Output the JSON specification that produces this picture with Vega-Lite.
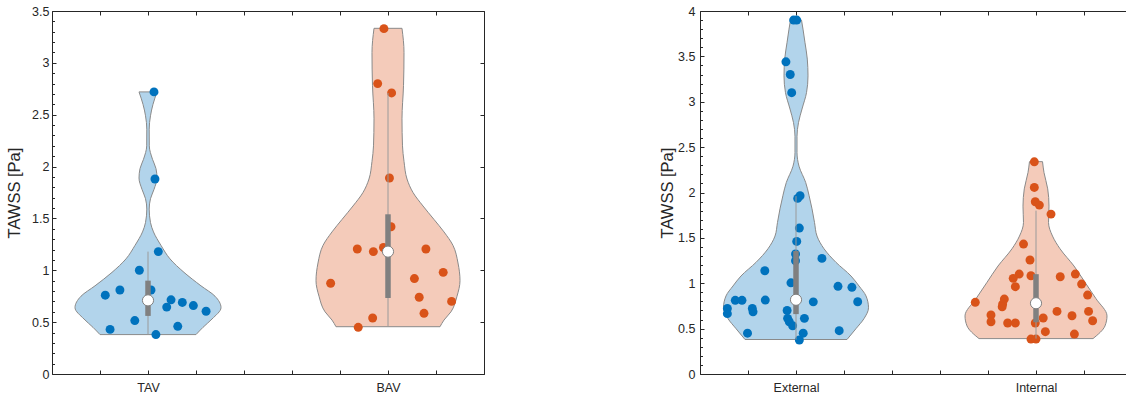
{
  "$schema": "https://vega.github.io/schema/vega-lite/v6.json",
  "padding": {"left": 6, "top": 5, "right": 0, "bottom": 0},
  "spacing": 174,
  "config": {
    "view": {"stroke": null},
    "axis": {"grid": false, "domainColor": "#262626", "tickColor": "#262626", "labelColor": "#262626", "titleColor": "#262626", "labelFont": "Liberation Sans", "titleFont": "Liberation Sans", "labelFontSize": 12.5, "titleFontSize": 16.5, "titleFontWeight": "normal", "labelOverlap": false, "domainWidth": 1, "tickWidth": 1}
  },
  "datasets": {
    "outL": [
      {"g": "TAV", "v": 0.38, "lo": 0.8, "hi": 1.2},
      {"g": "TAV", "v": 0.45, "lo": 0.7708, "hi": 1.2292},
      {"g": "TAV", "v": 0.53, "lo": 0.7333, "hi": 1.2667},
      {"g": "TAV", "v": 0.64, "lo": 0.6958, "hi": 1.3042},
      {"g": "TAV", "v": 0.75, "lo": 0.7208, "hi": 1.2792},
      {"g": "TAV", "v": 0.85, "lo": 0.7792, "hi": 1.2208},
      {"g": "TAV", "v": 0.98, "lo": 0.85, "hi": 1.15},
      {"g": "TAV", "v": 1.11, "lo": 0.9083, "hi": 1.0917},
      {"g": "TAV", "v": 1.24, "lo": 0.9458, "hi": 1.0542},
      {"g": "TAV", "v": 1.37, "lo": 0.9771, "hi": 1.0229},
      {"g": "TAV", "v": 1.46, "lo": 0.9896, "hi": 1.0104},
      {"g": "TAV", "v": 1.59, "lo": 0.995, "hi": 1.005},
      {"g": "TAV", "v": 1.69, "lo": 0.9896, "hi": 1.0104},
      {"g": "TAV", "v": 1.78, "lo": 0.975, "hi": 1.025},
      {"g": "TAV", "v": 1.89, "lo": 0.9625, "hi": 1.0375},
      {"g": "TAV", "v": 1.98, "lo": 0.9667, "hi": 1.0333},
      {"g": "TAV", "v": 2.07, "lo": 0.9812, "hi": 1.0188},
      {"g": "TAV", "v": 2.2, "lo": 0.9946, "hi": 1.0054},
      {"g": "TAV", "v": 2.36, "lo": 0.995, "hi": 1.005},
      {"g": "TAV", "v": 2.49, "lo": 0.9896, "hi": 1.0104},
      {"g": "TAV", "v": 2.6, "lo": 0.9792, "hi": 1.0208},
      {"g": "TAV", "v": 2.72, "lo": 0.9625, "hi": 1.0375},
      {"g": "BAV", "v": 0.456, "lo": 1.7833, "hi": 2.2167},
      {"g": "BAV", "v": 0.52, "lo": 1.7667, "hi": 2.2333},
      {"g": "BAV", "v": 0.6, "lo": 1.7375, "hi": 2.2625},
      {"g": "BAV", "v": 0.75, "lo": 1.7125, "hi": 2.2875},
      {"g": "BAV", "v": 0.9, "lo": 1.7, "hi": 2.3},
      {"g": "BAV", "v": 1.07, "lo": 1.7083, "hi": 2.2917},
      {"g": "BAV", "v": 1.24, "lo": 1.7292, "hi": 2.2708},
      {"g": "BAV", "v": 1.37, "lo": 1.7667, "hi": 2.2333},
      {"g": "BAV", "v": 1.49, "lo": 1.8083, "hi": 2.1917},
      {"g": "BAV", "v": 1.62, "lo": 1.8542, "hi": 2.1458},
      {"g": "BAV", "v": 1.75, "lo": 1.8958, "hi": 2.1042},
      {"g": "BAV", "v": 1.88, "lo": 1.9208, "hi": 2.0792},
      {"g": "BAV", "v": 2.05, "lo": 1.9333, "hi": 2.0667},
      {"g": "BAV", "v": 2.2, "lo": 1.9396, "hi": 2.0604},
      {"g": "BAV", "v": 2.46, "lo": 1.9417, "hi": 2.0583},
      {"g": "BAV", "v": 2.78, "lo": 1.9354, "hi": 2.0646},
      {"g": "BAV", "v": 3.1, "lo": 1.9333, "hi": 2.0667},
      {"g": "BAV", "v": 3.333, "lo": 1.9417, "hi": 2.0583}
    ],
    "ptsL": [
      {"g": "TAV", "x": 1.025, "v": 2.72}, {"g": "TAV", "x": 1.029, "v": 1.88}, {"g": "TAV", "x": 1.043, "v": 1.18},
      {"g": "TAV", "x": 0.964, "v": 1.0}, {"g": "TAV", "x": 0.822, "v": 0.76}, {"g": "TAV", "x": 0.883, "v": 0.81},
      {"g": "TAV", "x": 1.0125, "v": 0.81}, {"g": "TAV", "x": 1.078, "v": 0.645}, {"g": "TAV", "x": 1.096, "v": 0.715},
      {"g": "TAV", "x": 1.143, "v": 0.69}, {"g": "TAV", "x": 1.189, "v": 0.66}, {"g": "TAV", "x": 1.242, "v": 0.605},
      {"g": "TAV", "x": 0.945, "v": 0.515}, {"g": "TAV", "x": 0.842, "v": 0.43}, {"g": "TAV", "x": 1.124, "v": 0.46},
      {"g": "TAV", "x": 1.033, "v": 0.38},
      {"g": "BAV", "x": 1.983, "v": 3.33}, {"g": "BAV", "x": 1.957, "v": 2.8}, {"g": "BAV", "x": 2.015, "v": 2.71},
      {"g": "BAV", "x": 2.006, "v": 1.89}, {"g": "BAV", "x": 2.0125, "v": 1.42}, {"g": "BAV", "x": 1.872, "v": 1.205},
      {"g": "BAV", "x": 1.939, "v": 1.18}, {"g": "BAV", "x": 1.981, "v": 1.22}, {"g": "BAV", "x": 2.158, "v": 1.205},
      {"g": "BAV", "x": 1.761, "v": 0.875}, {"g": "BAV", "x": 2.11, "v": 0.92}, {"g": "BAV", "x": 2.23, "v": 0.98},
      {"g": "BAV", "x": 2.13, "v": 0.74}, {"g": "BAV", "x": 2.265, "v": 0.7}, {"g": "BAV", "x": 2.15, "v": 0.585},
      {"g": "BAV", "x": 1.936, "v": 0.54}, {"g": "BAV", "x": 1.876, "v": 0.45}
    ],
    "statL": [
      {"g": "TAV", "c": 1, "wlo": 0.38, "whi": 1.18, "q1": 0.56, "q3": 0.9, "med": 0.71},
      {"g": "BAV", "c": 2, "wlo": 0.456, "whi": 2.71, "q1": 0.733, "q3": 1.54, "med": 1.18}
    ],
    "outR": [
      {"g": "External", "v": 0.38, "lo": 0.7875, "hi": 1.2125},
      {"g": "External", "v": 0.5, "lo": 0.75, "hi": 1.25},
      {"g": "External", "v": 0.61, "lo": 0.7167, "hi": 1.2833},
      {"g": "External", "v": 0.73, "lo": 0.6979, "hi": 1.3021},
      {"g": "External", "v": 0.86, "lo": 0.7083, "hi": 1.2917},
      {"g": "External", "v": 0.97, "lo": 0.7375, "hi": 1.2625},
      {"g": "External", "v": 1.08, "lo": 0.7708, "hi": 1.2292},
      {"g": "External", "v": 1.23, "lo": 0.8333, "hi": 1.1667},
      {"g": "External", "v": 1.38, "lo": 0.8833, "hi": 1.1167},
      {"g": "External", "v": 1.52, "lo": 0.9125, "hi": 1.0875},
      {"g": "External", "v": 1.67, "lo": 0.9229, "hi": 1.0771},
      {"g": "External", "v": 1.82, "lo": 0.9333, "hi": 1.0667},
      {"g": "External", "v": 1.97, "lo": 0.9458, "hi": 1.0542},
      {"g": "External", "v": 2.11, "lo": 0.9596, "hi": 1.0404},
      {"g": "External", "v": 2.29, "lo": 0.9875, "hi": 1.0125},
      {"g": "External", "v": 2.44, "lo": 0.9958, "hi": 1.0042},
      {"g": "External", "v": 2.62, "lo": 0.9958, "hi": 1.0042},
      {"g": "External", "v": 2.77, "lo": 0.9896, "hi": 1.0104},
      {"g": "External", "v": 2.92, "lo": 0.975, "hi": 1.025},
      {"g": "External", "v": 3.1, "lo": 0.9562, "hi": 1.0438},
      {"g": "External", "v": 3.285, "lo": 0.95, "hi": 1.05},
      {"g": "External", "v": 3.47, "lo": 0.9529, "hi": 1.0471},
      {"g": "External", "v": 3.65, "lo": 0.9625, "hi": 1.0375},
      {"g": "External", "v": 3.8, "lo": 0.9708, "hi": 1.0292},
      {"g": "External", "v": 3.9, "lo": 0.9771, "hi": 1.0229},
      {"g": "Internal", "v": 0.39, "lo": 1.7625, "hi": 2.2375},
      {"g": "Internal", "v": 0.53, "lo": 1.7125, "hi": 2.2875},
      {"g": "Internal", "v": 0.64, "lo": 1.7042, "hi": 2.2958},
      {"g": "Internal", "v": 0.83, "lo": 1.75, "hi": 2.25},
      {"g": "Internal", "v": 1.01, "lo": 1.7958, "hi": 2.2042},
      {"g": "Internal", "v": 1.19, "lo": 1.8417, "hi": 2.1583},
      {"g": "Internal", "v": 1.38, "lo": 1.9, "hi": 2.1},
      {"g": "Internal", "v": 1.52, "lo": 1.9312, "hi": 2.0688},
      {"g": "Internal", "v": 1.67, "lo": 1.9479, "hi": 2.0521},
      {"g": "Internal", "v": 1.85, "lo": 1.9458, "hi": 2.0542},
      {"g": "Internal", "v": 2.04, "lo": 1.9512, "hi": 2.0488},
      {"g": "Internal", "v": 2.22, "lo": 1.9667, "hi": 2.0333},
      {"g": "Internal", "v": 2.34, "lo": 1.9729, "hi": 2.0271}
    ],
    "ptsR": [
      {"g": "External", "x": 0.99, "v": 3.9}, {"g": "External", "x": 1.003, "v": 3.9}, {"g": "External", "x": 0.958, "v": 3.44},
      {"g": "External", "x": 0.976, "v": 3.3}, {"g": "External", "x": 0.982, "v": 3.1}, {"g": "External", "x": 1.007, "v": 1.935},
      {"g": "External", "x": 1.017, "v": 1.964}, {"g": "External", "x": 1.014, "v": 1.608}, {"g": "External", "x": 1.003, "v": 1.461},
      {"g": "External", "x": 0.998, "v": 1.322}, {"g": "External", "x": 0.998, "v": 1.248}, {"g": "External", "x": 1.108, "v": 1.274},
      {"g": "External", "x": 0.87, "v": 1.138}, {"g": "External", "x": 0.979, "v": 1.005}, {"g": "External", "x": 1.175, "v": 0.966},
      {"g": "External", "x": 1.233, "v": 0.955}, {"g": "External", "x": 0.872, "v": 0.815}, {"g": "External", "x": 0.747, "v": 0.812},
      {"g": "External", "x": 0.775, "v": 0.812}, {"g": "External", "x": 0.714, "v": 0.723}, {"g": "External", "x": 0.714, "v": 0.665},
      {"g": "External", "x": 0.818, "v": 0.723}, {"g": "External", "x": 0.821, "v": 0.685}, {"g": "External", "x": 1.072, "v": 0.795},
      {"g": "External", "x": 1.257, "v": 0.796}, {"g": "External", "x": 0.963, "v": 0.7}, {"g": "External", "x": 0.965, "v": 0.613},
      {"g": "External", "x": 0.972, "v": 0.576}, {"g": "External", "x": 1.035, "v": 0.613}, {"g": "External", "x": 0.986, "v": 0.532},
      {"g": "External", "x": 0.798, "v": 0.45}, {"g": "External", "x": 1.03, "v": 0.45}, {"g": "External", "x": 1.18, "v": 0.477},
      {"g": "External", "x": 1.014, "v": 0.375},
      {"g": "Internal", "x": 1.993, "v": 2.338}, {"g": "Internal", "x": 1.993, "v": 2.056}, {"g": "Internal", "x": 1.997, "v": 1.898},
      {"g": "Internal", "x": 2.014, "v": 1.861}, {"g": "Internal", "x": 2.0625, "v": 1.762}, {"g": "Internal", "x": 1.948, "v": 1.432},
      {"g": "Internal", "x": 1.975, "v": 1.256}, {"g": "Internal", "x": 1.93, "v": 1.101}, {"g": "Internal", "x": 1.905, "v": 1.054},
      {"g": "Internal", "x": 1.914, "v": 0.962}, {"g": "Internal", "x": 1.979, "v": 1.083}, {"g": "Internal", "x": 2.101, "v": 1.072},
      {"g": "Internal", "x": 2.164, "v": 1.101}, {"g": "Internal", "x": 2.19, "v": 0.991}, {"g": "Internal", "x": 2.215, "v": 0.87},
      {"g": "Internal", "x": 1.747, "v": 0.79}, {"g": "Internal", "x": 1.868, "v": 0.826}, {"g": "Internal", "x": 1.861, "v": 0.77},
      {"g": "Internal", "x": 1.859, "v": 0.74}, {"g": "Internal", "x": 2.0875, "v": 0.69}, {"g": "Internal", "x": 2.15, "v": 0.642},
      {"g": "Internal", "x": 2.219, "v": 0.69}, {"g": "Internal", "x": 2.236, "v": 0.587}, {"g": "Internal", "x": 1.8125, "v": 0.65},
      {"g": "Internal", "x": 1.8125, "v": 0.576}, {"g": "Internal", "x": 1.882, "v": 0.562}, {"g": "Internal", "x": 1.914, "v": 0.562},
      {"g": "Internal", "x": 1.997, "v": 0.562}, {"g": "Internal", "x": 2.03, "v": 0.617}, {"g": "Internal", "x": 2.039, "v": 0.466},
      {"g": "Internal", "x": 2.16, "v": 0.44}, {"g": "Internal", "x": 1.979, "v": 0.385}, {"g": "Internal", "x": 2.0, "v": 0.385}
    ],
    "statR": [
      {"g": "External", "c": 1, "wlo": 0.38, "whi": 1.96, "q1": 0.66, "q3": 1.355, "med": 0.818},
      {"g": "Internal", "c": 2, "wlo": 0.39, "whi": 1.8, "q1": 0.57, "q3": 1.1, "med": 0.78}
    ]
  },
  "hconcat": [
    {
      "width": 432,
      "height": 363,
      "layer": [
        {
          "data": {"name": "outL"},
          "mark": {"type": "area", "orient": "horizontal", "interpolate": "monotone", "fillOpacity": 0.3, "stroke": "#8a8a8a", "strokeWidth": 1},
          "encoding": {
            "y": {"field": "v", "type": "quantitative", "scale": {"domain": [0, 3.5], "nice": false, "zero": false},
                  "axis": {"orient": "left", "values": [0, 0.5, 1, 1.5, 2, 2.5, 3, 3.5], "format": "~g", "title": "TAWSS [Pa]", "tickSize": -4, "labelPadding": 7, "titlePadding": 9}},
            "x": {"field": "lo", "type": "quantitative", "scale": {"domain": [0.6, 2.4], "nice": false, "zero": false},
                  "axis": {"orient": "bottom", "values": [0.6, 0.8, 1, 1.2, 1.4, 1.6, 1.8, 2, 2.2, 2.4], "labelExpr": "datum.value == 1 ? 'TAV' : datum.value == 2 ? 'BAV' : ''", "title": null, "tickSize": -4, "labelPadding": 11}},
            "x2": {"field": "hi"},
            "color": {"field": "g", "type": "nominal", "scale": {"domain": ["TAV", "BAV"], "range": ["#0072BD", "#D95319"]}, "legend": null}
          }
        },
        {
          "data": {"name": "ptsL"},
          "mark": {"type": "point", "filled": true, "opacity": 1, "size": 80},
          "encoding": {
            "x": {"field": "x", "type": "quantitative", "axis": null},
            "y": {"field": "v", "type": "quantitative", "axis": null},
            "color": {"field": "g", "type": "nominal", "legend": null}
          }
        },
        {
          "data": {"name": "statL"},
          "mark": {"type": "rule", "color": "#9a9a9a", "strokeWidth": 1},
          "encoding": {
            "x": {"field": "c", "type": "quantitative", "axis": {"orient": "top", "values": [0.6, 0.8, 1, 1.2, 1.4, 1.6, 1.8, 2, 2.2, 2.4], "labels": false, "title": null, "tickSize": -4}},
            "y": {"field": "wlo", "type": "quantitative", "axis": {"orient": "right", "values": [0, 0.5, 1, 1.5, 2, 2.5, 3, 3.5], "labels": false, "title": null, "tickSize": -4}},
            "y2": {"field": "whi"}
          }
        },
        {
          "data": {"name": "statL"},
          "mark": {"type": "rule", "color": "#808080", "strokeWidth": 5.5},
          "encoding": {
            "x": {"field": "c", "type": "quantitative", "axis": null},
            "y": {"field": "q1", "type": "quantitative", "axis": {"orient": "left", "values": [0.1, 0.2, 0.3, 0.4, 0.6, 0.7, 0.8, 0.9, 1.1, 1.2, 1.3, 1.4, 1.6, 1.7, 1.8, 1.9, 2.1, 2.2, 2.3, 2.4, 2.6, 2.7, 2.8, 2.9, 3.1, 3.2, 3.3, 3.4], "labels": false, "domain": false, "title": null, "tickSize": -2.5}},
            "y2": {"field": "q3"}
          }
        },
        {
          "data": {"name": "statL"},
          "mark": {"type": "point", "filled": true, "fill": "white", "stroke": "#808080", "strokeWidth": 1, "size": 125, "opacity": 1},
          "encoding": {
            "x": {"field": "c", "type": "quantitative", "axis": null},
            "y": {"field": "med", "type": "quantitative", "axis": null}
          }
        }
      ]
    },
    {
      "width": 426,
      "height": 363,
      "layer": [
        {
          "data": {"name": "outR"},
          "mark": {"type": "area", "orient": "horizontal", "interpolate": "monotone", "fillOpacity": 0.3, "stroke": "#8a8a8a", "strokeWidth": 1},
          "encoding": {
            "y": {"field": "v", "type": "quantitative", "scale": {"domain": [0, 4], "nice": false, "zero": false},
                  "axis": {"orient": "left", "values": [0, 0.5, 1, 1.5, 2, 2.5, 3, 3.5, 4], "format": "~g", "title": "TAWSS [Pa]", "tickSize": -4, "labelPadding": 9, "titlePadding": 2}},
            "x": {"field": "lo", "type": "quantitative", "scale": {"domain": [0.6, 2.375], "nice": false, "zero": false},
                  "axis": {"orient": "bottom", "values": [0.6, 0.8, 1, 1.2, 1.4, 1.6, 1.8, 2, 2.2], "labelExpr": "datum.value == 1 ? 'External' : datum.value == 2 ? 'Internal' : ''", "title": null, "tickSize": -4, "labelPadding": 11}},
            "x2": {"field": "hi"},
            "color": {"field": "g", "type": "nominal", "scale": {"domain": ["External", "Internal"], "range": ["#0072BD", "#D95319"]}, "legend": null}
          }
        },
        {
          "data": {"name": "ptsR"},
          "mark": {"type": "point", "filled": true, "opacity": 1, "size": 80},
          "encoding": {
            "x": {"field": "x", "type": "quantitative", "axis": null},
            "y": {"field": "v", "type": "quantitative", "axis": null},
            "color": {"field": "g", "type": "nominal", "legend": null}
          }
        },
        {
          "data": {"name": "statR"},
          "mark": {"type": "rule", "color": "#9a9a9a", "strokeWidth": 1},
          "encoding": {
            "x": {"field": "c", "type": "quantitative", "axis": {"orient": "top", "values": [0.6, 0.8, 1, 1.2, 1.4, 1.6, 1.8, 2, 2.2], "labels": false, "title": null, "tickSize": -4}},
            "y": {"field": "wlo", "type": "quantitative", "axis": null},
            "y2": {"field": "whi"}
          }
        },
        {
          "data": {"name": "statR"},
          "mark": {"type": "rule", "color": "#808080", "strokeWidth": 5.5},
          "encoding": {
            "x": {"field": "c", "type": "quantitative", "axis": null},
            "y": {"field": "q1", "type": "quantitative", "axis": {"orient": "right", "values": [0.1, 0.2], "labels": false, "domain": false, "ticks": false, "title": null}},
            "y2": {"field": "q3"}
          }
        },
        {
          "data": {"name": "statR"},
          "mark": {"type": "point", "filled": true, "fill": "white", "stroke": "#808080", "strokeWidth": 1, "size": 125, "opacity": 1},
          "encoding": {
            "x": {"field": "c", "type": "quantitative", "axis": null},
            "y": {"field": "med", "type": "quantitative", "axis": {"orient": "left", "values": [0.1, 0.2, 0.3, 0.4, 0.6, 0.7, 0.8, 0.9, 1.1, 1.2, 1.3, 1.4, 1.6, 1.7, 1.8, 1.9, 2.1, 2.2, 2.3, 2.4, 2.6, 2.7, 2.8, 2.9, 3.1, 3.2, 3.3, 3.4, 3.6, 3.7, 3.8, 3.9], "labels": false, "domain": false, "title": null, "tickSize": -2.5}}
          }
        }
      ]
    }
  ]
}
